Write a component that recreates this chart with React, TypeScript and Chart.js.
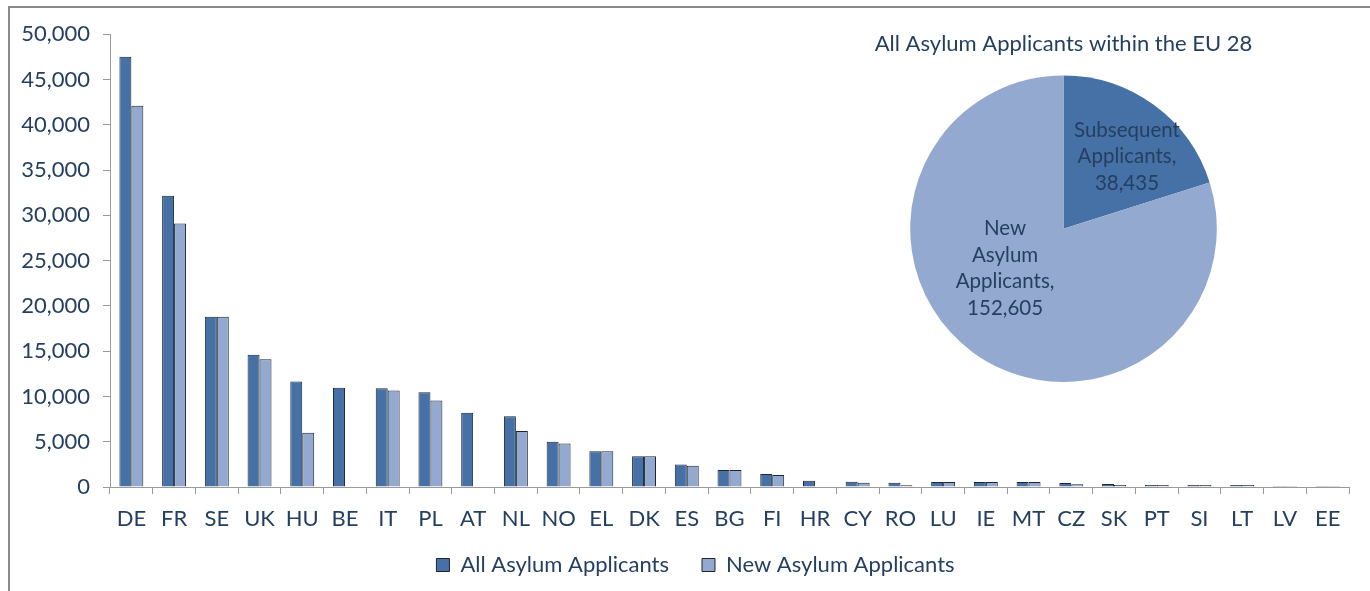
import React, { useEffect, useRef } from "react";
import { Chart, registerables } from "chart.js";

Chart.register(...registerables);

const countries = ["DE", "FR", "SE", "UK", "HU", "BE", "IT", "PL", "AT", "NL", "NO", "EL", "DK", "ES", "BG", "FI", "HR", "CY", "RO", "LU", "IE", "MT", "CZ", "SK", "PT", "SI", "LT", "LV", "EE"];
const allApplicants = [47500, 32150, 18800, 14600, 11650, 10950, 10900, 10450, 8200, 7820, 5000, 3950, 3400, 2485, 1865, 1425, 700, 580, 470, 550, 550, 550, 440, 330, 220, 220, 220, 110, 110];
const newApplicants = [42100, 29100, 18800, 14100, 6000, null, 10650, 9550, null, 6180, 4790, 3950, 3400, 2340, 1865, 1315, null, 475, 190, 550, 550, 550, 290, 220, 220, 220, 220, 110, 110];
const seriesNames = ["All Asylum Applicants", "New Asylum Applicants"];
const yTicks = [0, 5000, 10000, 15000, 20000, 25000, 30000, 35000, 40000, 45000, 50000];

const pieTitle = "All Asylum Applicants within the EU 28";
const pieCategories = ["Subsequent Applicants", "New Asylum Applicants"];
const pieValues = [38435, 152605];

const DARK = "#4571a7";
const LIGHT = "#94a9cf";
const TEXT = "#243f60";
const AXIS = "#9a9a9a";
const FONT = "Lato, 'Open Sans', sans-serif";

const fmt = (v: number) => v.toLocaleString("en-US");

export default function App() {
  const barRef = useRef<HTMLCanvasElement | null>(null);
  const pieRef = useRef<HTMLCanvasElement | null>(null);

  useEffect(() => {
    const layoutTweak = {
      id: "layoutTweak",
      afterLayout(chart: any) {
        const x = chart.scales.x;
        // let the category labels draw below the (compact) axis box without clipping
        x.bottom += 16;
        x.height += 16;
        if (chart.legend) {
          chart.legend.left += 16;
          chart.legend.right += 16;
        }
      },
    };

    const barChart = new Chart(barRef.current as HTMLCanvasElement, {
      type: "bar",
      data: {
        labels: countries,
        datasets: [
          {
            label: seriesNames[0],
            data: allApplicants,
            backgroundColor: DARK,
            borderColor: "#1d2530",
            borderWidth: 1,
            categoryPercentage: 0.56,
            barPercentage: 1,
          },
          {
            label: seriesNames[1],
            data: newApplicants as any,
            backgroundColor: LIGHT,
            borderColor: "#1d2530",
            borderWidth: 1,
            categoryPercentage: 0.56,
            barPercentage: 1,
          },
        ],
      },
      options: {
        animation: false,
        responsive: false,
        maintainAspectRatio: false,
        layout: { padding: { left: 0, right: 21, top: 21, bottom: 5 } },
        scales: {
          x: {
            grid: { display: true, drawOnChartArea: false, tickLength: 7, color: AXIS, offset: true },
            border: { color: AXIS, width: 1 },
            ticks: { font: { family: FONT, size: 22 }, color: TEXT, padding: 12, maxRotation: 0, autoSkip: false },
            afterFit: (s: any) => {
              s.height = 34;
            },
          },
          y: {
            min: 0,
            max: 50000,
            afterBuildTicks: (s: any) => {
              s.ticks = yTicks.map((v) => ({ value: v }));
            },
            ticks: {
              font: { family: FONT, size: 22 },
              color: TEXT,
              padding: 13,
              callback: (v: any) => fmt(Number(v)),
            },
            grid: { display: true, drawOnChartArea: false, tickLength: 7, color: AXIS },
            border: { color: AXIS, width: 1 },
            afterFit: (s: any) => {
              s.width = 100;
            },
          },
        },
        plugins: {
          legend: {
            position: "bottom",
            labels: {
              boxWidth: 13,
              boxHeight: 13,
              padding: 33,
              font: { family: FONT, size: 22 },
              color: TEXT,
            },
          },
          tooltip: { enabled: false },
        },
      },
      plugins: [layoutTweak],
    });

    const pieLabelPlugin = {
      id: "pieLabels",
      afterDatasetsDraw(chart: any) {
        const meta = chart.getDatasetMeta(0);
        const ctx = chart.ctx;
        const offsets = [
          [0.414, -0.469],
          [-0.381, 0.26],
        ];
        ctx.save();
        ctx.font = `20.5px ${FONT}`;
        ctx.fillStyle = TEXT;
        ctx.textAlign = "center";
        ctx.textBaseline = "middle";
        meta.data.forEach((arc: any, i: number) => {
          const words = pieCategories[i].split(" ");
          const lines = words.map((w, k) => (k === words.length - 1 ? w + "," : w));
          lines.push(fmt(pieValues[i]));
          const r = arc.outerRadius;
          const cx = arc.x + offsets[i][0] * r;
          const cy = arc.y + offsets[i][1] * r;
          const lh = 26.5;
          const startY = cy - ((lines.length - 1) * lh) / 2;
          lines.forEach((ln, k) => ctx.fillText(ln, cx, startY + k * lh));
        });
        ctx.restore();
      },
    };

    const pieChart = new Chart(pieRef.current as HTMLCanvasElement, {
      type: "pie",
      data: {
        labels: pieCategories,
        datasets: [
          {
            data: pieValues,
            backgroundColor: [DARK, LIGHT],
            borderWidth: 0,
          },
        ],
      },
      options: {
        animation: false,
        responsive: false,
        maintainAspectRatio: false,
        layout: { padding: 0 },
        plugins: {
          legend: { display: false },
          tooltip: { enabled: false },
          title: {
            display: true,
            text: pieTitle,
            color: TEXT,
            font: { family: FONT, size: 22, weight: "normal" },
            padding: { top: 6, bottom: 18 },
          },
        },
      },
      plugins: [pieLabelPlugin],
    });

    return () => {
      barChart.destroy();
      pieChart.destroy();
    };
  }, []);

  return (
    <div
      style={{
        position: "fixed",
        left: 8,
        top: 6,
        right: 0,
        bottom: 0,
        borderLeft: "2px solid #8a8a8a",
        borderTop: "2px solid #8a8a8a",
        background: "#fff",
        overflow: "hidden",
      }}
    >
      <canvas ref={barRef} width={1360} height={583} style={{ position: "absolute", left: 0, top: 0, display: "block" }} />
      <canvas ref={pieRef} width={419} height={357} style={{ position: "absolute", left: 844, top: 17, display: "block" }} />
    </div>
  );
}
